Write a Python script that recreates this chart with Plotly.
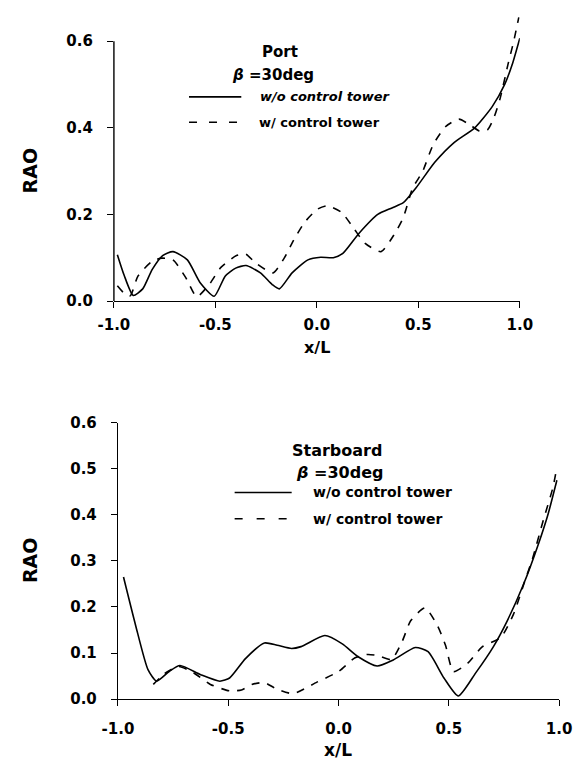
import plotly.graph_objects as go

W, H = 587, 770

# ---------------- data ----------------
port_wo_x = [-0.983, -0.95, -0.905, -0.858, -0.811, -0.76, -0.709, -0.638, -0.576, -0.506,
             -0.451, -0.40, -0.349, -0.278, -0.22, -0.185, -0.122, -0.044, 0.019, 0.081,
             0.128, 0.207, 0.30, 0.37, 0.426, 0.488, 0.582, 0.676, 0.778, 0.864, 0.926, 0.965, 1.0]
port_wo_y = [0.107, 0.06, 0.013, 0.028, 0.073, 0.105, 0.114, 0.095, 0.043, 0.011,
             0.058, 0.076, 0.082, 0.065, 0.038, 0.028, 0.065, 0.095, 0.101, 0.100,
             0.11, 0.156, 0.20, 0.215, 0.227, 0.261, 0.321, 0.366, 0.40, 0.449, 0.501, 0.55, 0.607]

port_w_x = [-0.983, -0.95, -0.92, -0.881, -0.811, -0.764, -0.709, -0.646, -0.592, -0.529,
            -0.474, -0.396, -0.35, -0.302, -0.216, -0.161, -0.114, -0.06, 0.003, 0.05,
            0.121, 0.183, 0.238, 0.316, 0.379, 0.426, 0.472, 0.52, 0.574, 0.637, 0.70,
            0.76, 0.80, 0.84, 0.872, 0.903, 0.942, 0.97, 0.995]
port_w_y = [0.035, 0.018, 0.012, 0.058, 0.092, 0.099, 0.095, 0.054, 0.010, 0.039,
            0.077, 0.105, 0.108, 0.088, 0.065, 0.099, 0.141, 0.182, 0.212, 0.22,
            0.205, 0.167, 0.133, 0.114, 0.152, 0.193, 0.261, 0.298, 0.362, 0.404, 0.42,
            0.405, 0.393, 0.395, 0.423, 0.468, 0.547, 0.60, 0.655]

stbd_wo_x = [-0.975, -0.92, -0.864, -0.825, -0.768, -0.719, -0.625, -0.538, -0.494, -0.422,
             -0.336, -0.278, -0.213, -0.170, -0.062, 0.017, 0.089, 0.175, 0.248, 0.348,
             0.406, 0.478, 0.543, 0.622, 0.701, 0.765, 0.837, 0.908, 0.951, 0.99]
stbd_wo_y = [0.265, 0.16, 0.064, 0.039, 0.060, 0.073, 0.053, 0.039, 0.046, 0.088,
             0.122, 0.117, 0.110, 0.114, 0.138, 0.120, 0.092, 0.072, 0.085, 0.112,
             0.103, 0.046, 0.007, 0.057, 0.113, 0.170, 0.247, 0.339, 0.403, 0.475]

stbd_w_x = [-0.84, -0.79, -0.726, -0.66, -0.581, -0.494, -0.44, -0.393, -0.336, -0.285,
            -0.206, -0.098, 0.0, 0.075, 0.13, 0.175, 0.24, 0.29, 0.327, 0.392,
            0.449, 0.485, 0.521, 0.586, 0.650, 0.736, 0.793, 0.843, 0.879, 0.929, 0.972, 0.985]
stbd_w_y = [0.032, 0.055, 0.071, 0.058, 0.032, 0.018, 0.02, 0.032, 0.036, 0.023,
            0.012, 0.037, 0.060, 0.090, 0.097, 0.095, 0.086, 0.127, 0.170, 0.198,
            0.159, 0.117, 0.060, 0.078, 0.113, 0.134, 0.184, 0.254, 0.304, 0.389, 0.459, 0.49]

x_ticks = [-1.0, -0.5, 0.0, 0.5, 1.0]
x_tick_labels = ["-1.0", "-0.5", "0.0", "0.5", "1.0"]
port_y_ticks = [0.0, 0.2, 0.4, 0.6]
stbd_y_ticks = [0.0, 0.1, 0.2, 0.3, 0.4, 0.5, 0.6]

series_names = ["w/o control tower", "w/ control tower"]
FONT = "DejaVu Sans"


def px(x):
    return x / W


def py(y):
    return 1 - y / H


fig = go.Figure()
line_solid = dict(color="black", width=1.6, shape="spline", smoothing=0.6)
line_dash = dict(color="black", width=1.6, shape="spline", smoothing=0.6, dash="8px,8px")

fig.add_trace(go.Scatter(x=port_wo_x, y=port_wo_y, mode="lines", line=line_solid,
                         name=series_names[0], xaxis="x", yaxis="y", showlegend=False))
fig.add_trace(go.Scatter(x=port_w_x, y=port_w_y, mode="lines", line=line_dash,
                         name=series_names[1], xaxis="x", yaxis="y", showlegend=False))
fig.add_trace(go.Scatter(x=stbd_wo_x, y=stbd_wo_y, mode="lines", line=line_solid,
                         name=series_names[0], xaxis="x2", yaxis="y2", showlegend=False))
fig.add_trace(go.Scatter(x=stbd_w_x, y=stbd_w_y, mode="lines", line=line_dash,
                         name=series_names[1], xaxis="x2", yaxis="y2", showlegend=False))

tickfont = dict(family=FONT, size=15, color="black", weight="bold")
common_x = dict(range=[-1, 1], tickvals=x_ticks, ticktext=x_tick_labels, showgrid=False,
                zeroline=False, showline=True, linecolor="black", linewidth=1.4,
                ticks="outside", ticklen=6, tickwidth=1.2, tickcolor="black",
                tickfont=tickfont)
common_y = dict(showgrid=False, zeroline=False, ticks="outside", ticklen=6, tickwidth=1.2,
                tickcolor="black", tickfont=tickfont, tickformat=".1f")

fig.update_layout(
    width=W, height=H, margin=dict(l=0, r=0, t=0, b=0),
    paper_bgcolor="white", plot_bgcolor="white", showlegend=False,
    xaxis=dict(common_x, domain=[px(103), px(530)], anchor="y", ticklabelstandoff=4),
    yaxis=dict(common_y, domain=[py(299), py(6.4)], range=[0, 0.66], tickvals=port_y_ticks,
               anchor="x", showline=False, ticklabelstandoff=11),
    xaxis2=dict(common_x, domain=[px(107.3), px(571.3)], anchor="y2", ticklabelstandoff=10),
    yaxis2=dict(common_y, domain=[py(706.7), py(423.5)], range=[0, 0.6], tickvals=stbd_y_ticks,
                anchor="x2", showline=True, linecolor="black", linewidth=1.4,
                ticklabelstandoff=11),
)

# top y axis line only up to 0.6
fig.add_shape(type="line", xref="x domain", yref="y", x0=0, x1=0, y0=0, y1=0.6,
              line=dict(color="black", width=1.4))


def ann(text, x, y, size, xanchor="center", angle=0):
    fig.add_annotation(text=text, x=px(x), y=py(y), xref="paper", yref="paper",
                       xanchor=xanchor, yanchor="middle", showarrow=False, textangle=angle,
                       font=dict(family=FONT, size=size, color="black", weight="bold"))


def legline(x0, x1, y, dash):
    fig.add_shape(type="line", xref="paper", yref="paper", x0=px(x0), x1=px(x1),
                  y0=py(y), y1=py(y), line=dict(color="black", width=1.6, dash=dash))


# axis titles
ann("RAO", 15, 165, 19, angle=-90)
ann("x/L", 317, 347, 16)
ann("RAO", 15, 564, 19, angle=-90)
ann("x/L", 339, 759, 17)

# top panel labels
ann("Port", 278, 44, 15)
ann("<i>β</i> =30deg", 270, 68, 15)
legline(182, 237, 90, "solid")
ann("<i>" + series_names[0] + "</i>", 255, 90, 13, xanchor="left")
legline(182, 237, 116, "8px,12px")
ann(series_names[1], 253, 116, 13, xanchor="left")

# bottom panel labels
ann("Starboard", 338, 452, 16)
ann("<i>β</i> =30deg", 340, 475, 16)
legline(230, 290, 495, "solid")
ann(series_names[0], 310, 495, 14, xanchor="left")
legline(230, 290, 522, "8px,14px")
ann(series_names[1], 310, 522, 14, xanchor="left")

fig.write_html("out.html")
